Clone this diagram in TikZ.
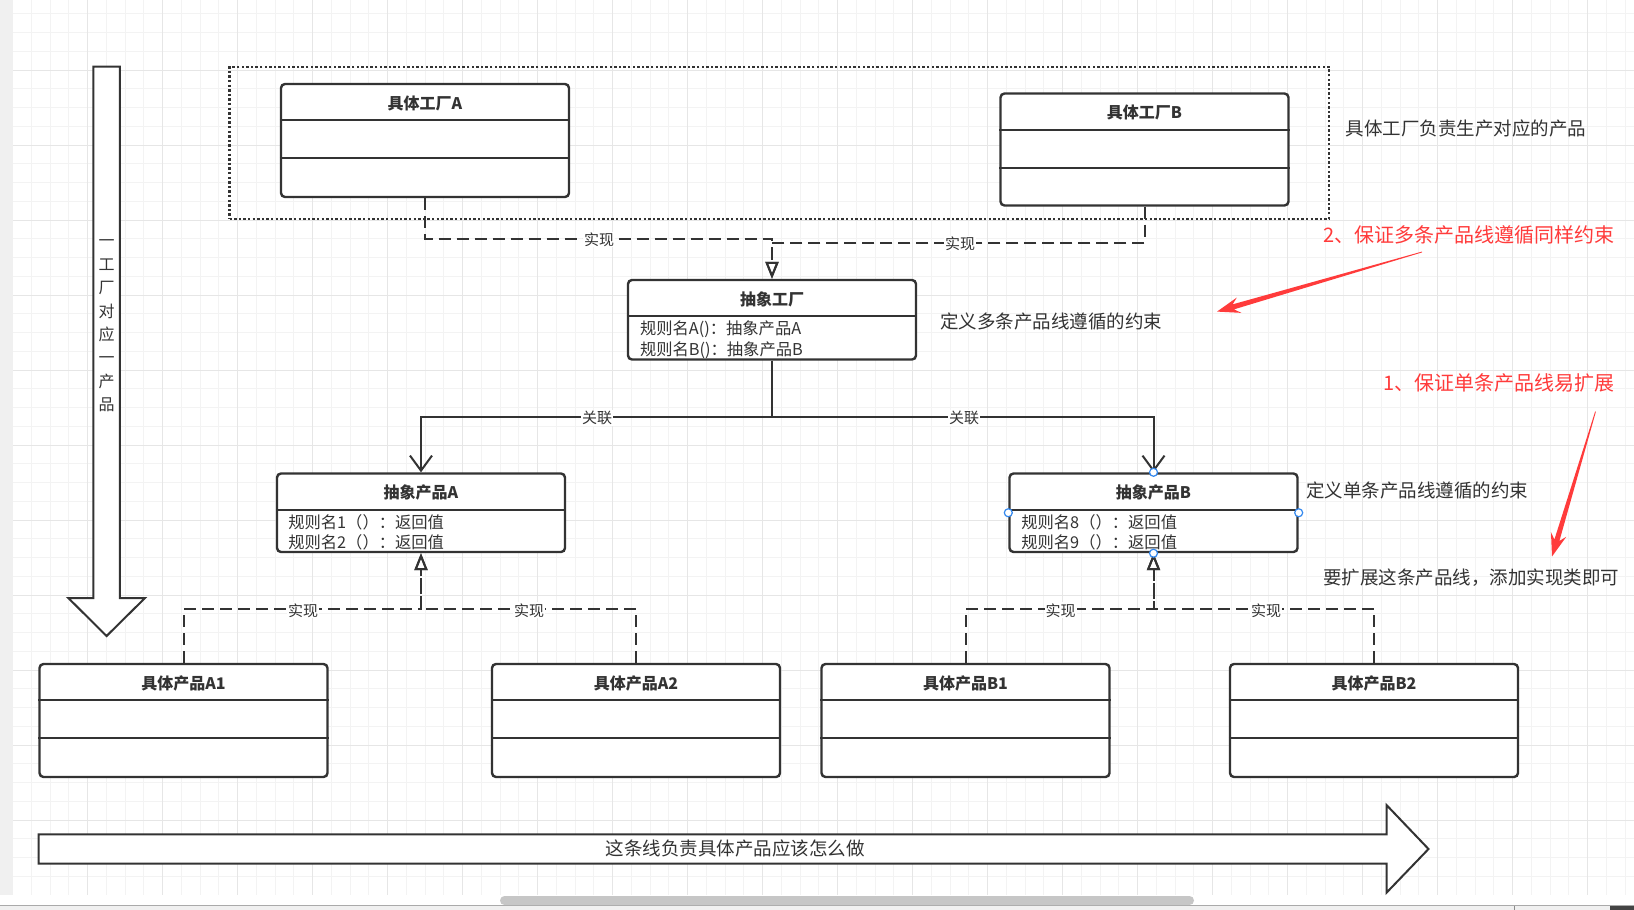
\documentclass[tikz,border=0pt]{standalone}
\usepackage{fontspec}
\setmainfont{Noto Sans CJK SC}
\usetikzlibrary{arrows.meta,calc}
\definecolor{ink}{HTML}{333333}
\definecolor{gridminor}{HTML}{F3F3F3}
\definecolor{gridmajor}{HTML}{E6E6E6}
\definecolor{redann}{HTML}{FF3B3B}
\definecolor{handle}{HTML}{3388EE}
\definecolor{strip}{HTML}{F0F0F0}
\definecolor{scroll}{HTML}{C6C6C6}
\definecolor{sepline}{HTML}{AAAAAA}
\definecolor{darkbox}{HTML}{444444}
\definecolor{tickgray}{HTML}{8C8C8C}
\tikzset{
  classbox/.style={draw=ink, line width=2.4pt, rounded corners=4pt, fill=white, inner sep=0pt, minimum width=288pt},
  divider/.style={draw=ink, line width=2pt},
  title/.style={font=\fontsize{16}{19}\selectfont\bfseries, text=ink, inner sep=0pt},
  member/.style={font=\fontsize{16.3}{20}\selectfont, text=ink, inner sep=0pt, anchor=west},
  realline/.style={draw=ink, line width=2pt, dash pattern=on 12pt off 6pt, -{Triangle[open, length=17pt, width=13pt]}},
  assoc/.style={draw=ink, line width=2pt, -{Straight Barb[length=15pt, width=22pt]}},
  lbl/.style={fill=white, inner sep=1pt, font=\fontsize{15}{17}\selectfont, text=ink},
  note/.style={font=\fontsize{18.5}{22}\selectfont, text=ink, anchor=west, inner sep=0pt},
  rednote/.style={font=\fontsize{20}{24}\selectfont, text=redann, anchor=west, inner sep=0pt},
  blockarrow/.style={draw=ink, line width=2pt, fill=white, line join=miter},
  grpbox/.style={draw=ink, line width=2.4pt, dash pattern=on 2.4pt off 2.2pt, inner sep=0pt},
  handlept/.style={circle, draw=handle, fill=white, line width=1.2pt, minimum size=8pt, inner sep=0pt},
  minorline/.style={draw=gridminor, line width=1pt},
  majorline/.style={draw=gridmajor, line width=1pt},
}
\begin{document}
\begin{tikzpicture}[x=1pt,y=-1pt]
\useasboundingbox (0,0) rectangle (1634,910);
% background
\fill[white] (0,0) rectangle (1634,910);
\foreach \i in {0,...,86} {\draw[minorline] ({12.7+18.75*\i},0) -- ({12.7+18.75*\i},895);}
\foreach \j in {1,...,48} {\draw[minorline] (12.7,{-5+18.75*\j}) -- (1634,{-5+18.75*\j});}
\foreach \i in {0,...,21} {\draw[majorline] ({12.7+75*\i},0) -- ({12.7+75*\i},895);}
\foreach \j in {1,...,12} {\draw[majorline] (12.7,{-5+75*\j}) -- (1634,{-5+75*\j});}
\fill[strip] (0,0) rectangle (12.7,895);
\fill[white] (0,895) rectangle (1634,905);
\fill[strip] (0,905.5) rectangle (1634,910);
\draw[sepline, line width=1pt] (0,905.5) -- (1634,905.5);
\fill[scroll, rounded corners=4.5pt] (500,896) rectangle (1194,905);
\fill[darkbox] (1610,906) rectangle (1634,910);
\draw[tickgray, line width=1pt] (1514,906) -- (1514,910);

% group box
\node[grpbox, minimum width=1099.4pt, minimum height=152.3pt] (grp) at (779.3,142.85) {};

% left vertical block arrow
\draw[blockarrow] (93.4,66.7) -- (119.8,66.7) -- (119.8,598) -- (145,598) -- (106.6,636) -- (68.3,598) -- (93.4,598) -- cycle;
\node[inner sep=0pt, align=center, text=ink, font=\fontsize{16}{23.4}\selectfont] (vtext) at (106.7,326) {一\\工\\厂\\对\\应\\一\\产\\品};

% bottom block arrow
\draw[blockarrow] (38.5,834.3) -- (1386.5,834.3) -- (1386.5,805) -- (1428.5,849) -- (1386.5,892.7) -- (1386.5,863.5) -- (38.5,863.5) -- cycle;
\node[inner sep=0pt, text=ink, font=\fontsize{18.5}{22}\selectfont] (htext) at (735,848.5) {这条线负责具体产品应该怎么做};

% class boxes
\node[classbox, minimum height=113pt] (fa) at (425,140.5) {};
\node[classbox, minimum height=112pt] (fb) at (1144.5,149.5) {};
\node[classbox, minimum height=79.5pt] (af) at (772,319.75) {};
\node[classbox, minimum height=78.5pt] (pa) at (421,512.75) {};
\node[classbox, minimum height=78.5pt] (pb) at (1153.5,512.75) {};
\node[classbox, minimum height=113pt] (a1) at (183.5,720.5) {};
\node[classbox, minimum height=113pt] (a2) at (636,720.5) {};
\node[classbox, minimum height=113pt] (b1) at (965.5,720.5) {};
\node[classbox, minimum height=113pt] (b2) at (1374,720.5) {};

\foreach \b in {fa,fb,a1,a2,b1,b2} {
  \draw[divider] ($(\b.north west)+(0,37.6)$) -- ($(\b.north east)+(0,37.6)$);
  \draw[divider] ($(\b.north west)+(0,75.2)$) -- ($(\b.north east)+(0,75.2)$);
}
\foreach \b in {af,pa,pb} {
  \draw[divider] ($(\b.north west)+(0,37.6)$) -- ($(\b.north east)+(0,37.6)$);
}

\node[title] (tfa) at ($(fa.north)+(0,20.5)$) {具体工厂A};
\node[title] (tfb) at ($(fb.north)+(0,20.5)$) {具体工厂B};
\node[title] (taf) at ($(af.north)+(0,20.5)$) {抽象工厂};
\node[title] (tpa) at ($(pa.north)+(0,20.5)$) {抽象产品A};
\node[title] (tpb) at ($(pb.north)+(0,20.5)$) {抽象产品B};
\node[title] (ta1) at ($(a1.north)+(0,20.5)$) {具体产品A1};
\node[title] (ta2) at ($(a2.north)+(0,20.5)$) {具体产品A2};
\node[title] (tb1) at ($(b1.north)+(0,20.5)$) {具体产品B1};
\node[title] (tb2) at ($(b2.north)+(0,20.5)$) {具体产品B2};

\node[member] (maf1) at ($(af.north west)+(13,50.5)$) {规则名A()：抽象产品A};
\node[member] (maf2) at ($(af.north west)+(13,71.5)$) {规则名B()：抽象产品B};
\node[member] (mpa1) at ($(pa.north west)+(12.3,50)$) {规则名1（）：返回值};
\node[member] (mpa2) at ($(pa.north west)+(12.3,70)$) {规则名2（）：返回值};
\node[member] (mpb1) at ($(pb.north west)+(12.8,50)$) {规则名8（）：返回值};
\node[member] (mpb2) at ($(pb.north west)+(12.8,70)$) {规则名9（）：返回值};

% connectors
\draw[realline] (fa.south) |- (772,238.5) -- (af.north);
\draw[realline] (fb.south) |- (772,242.5) -- (af.north);
\node[lbl] (l1) at (599,239.5) {实现};
\node[lbl] (l2) at (960,243.5) {实现};

\draw[assoc] (af.south) -- (772,417) -| (pa.north);
\draw[assoc] (af.south) -- (772,417) -| (pb.north);
\node[lbl] (l3) at (597,418) {关联};
\node[lbl] (l4) at (964,418) {关联};

\draw[realline] (a1.north) |- (421,609.3) -- (pa.south);
\draw[realline] (a2.north) |- (421,609.3) -- (pa.south);
\draw[realline] (b1.north) |- (1153.5,609.3) -- (pb.south);
\draw[realline] (b2.north) |- (1153.5,609.3) -- (pb.south);
\node[lbl] (l5) at (303,610.3) {实现};
\node[lbl] (l6) at (529,610.3) {实现};
\node[lbl] (l7) at (1060.5,610.3) {实现};
\node[lbl] (l8) at (1266,610.3) {实现};

% selection handles on 抽象产品B
\node[handlept] (h1) at (pb.north) {};
\node[handlept] (h2) at (pb.south) {};
\node[handlept] (h3) at (pb.west) {};
\node[handlept] (h4) at (pb.east) {};

% notes
\node[note] (n1) at (1345.7,128.3) {具体工厂负责生产对应的产品};
\node[note] (n2) at (940,321) {定义多条产品线遵循的约束};
\node[note] (n3) at (1306,490) {定义单条产品线遵循的约束};
\node[note] (n4) at (1323,578) {要扩展这条产品线，添加实现类即可};
\node[rednote] (r2) at (1323.3,235) {2、保证多条产品线遵循同样约束};
\node[rednote] (r1) at (1383,383.3) {1、保证单条产品线易扩展};

% red tapered arrows
\coordinate (r2tail) at (1422,252);
\coordinate (r2tip) at (1217,311.6);
\coordinate (r2n) at ($(r2tip)!17pt!(r2tail)$);
\coordinate (r2m) at ($(r2tip)!23pt!(r2tail)$);
\fill[redann] ($(r2tail)!0.4pt!90:(r2tip)$) -- ($(r2n)!2.6pt!90:(r2tip)$) -- ($(r2m)!8pt!90:(r2tip)$) -- (r2tip) -- ($(r2m)!8pt!-90:(r2tip)$) -- ($(r2n)!2.6pt!-90:(r2tip)$) -- ($(r2tail)!0.4pt!-90:(r2tip)$) -- cycle;
\coordinate (r1tail) at (1595.5,411.6);
\coordinate (r1tip) at (1552,556.5);
\coordinate (r1n) at ($(r1tip)!17pt!(r1tail)$);
\coordinate (r1m) at ($(r1tip)!23pt!(r1tail)$);
\fill[redann] ($(r1tail)!0.4pt!90:(r1tip)$) -- ($(r1n)!2.6pt!90:(r1tip)$) -- ($(r1m)!8pt!90:(r1tip)$) -- (r1tip) -- ($(r1m)!8pt!-90:(r1tip)$) -- ($(r1n)!2.6pt!-90:(r1tip)$) -- ($(r1tail)!0.4pt!-90:(r1tip)$) -- cycle;
\end{tikzpicture}
\end{document}
